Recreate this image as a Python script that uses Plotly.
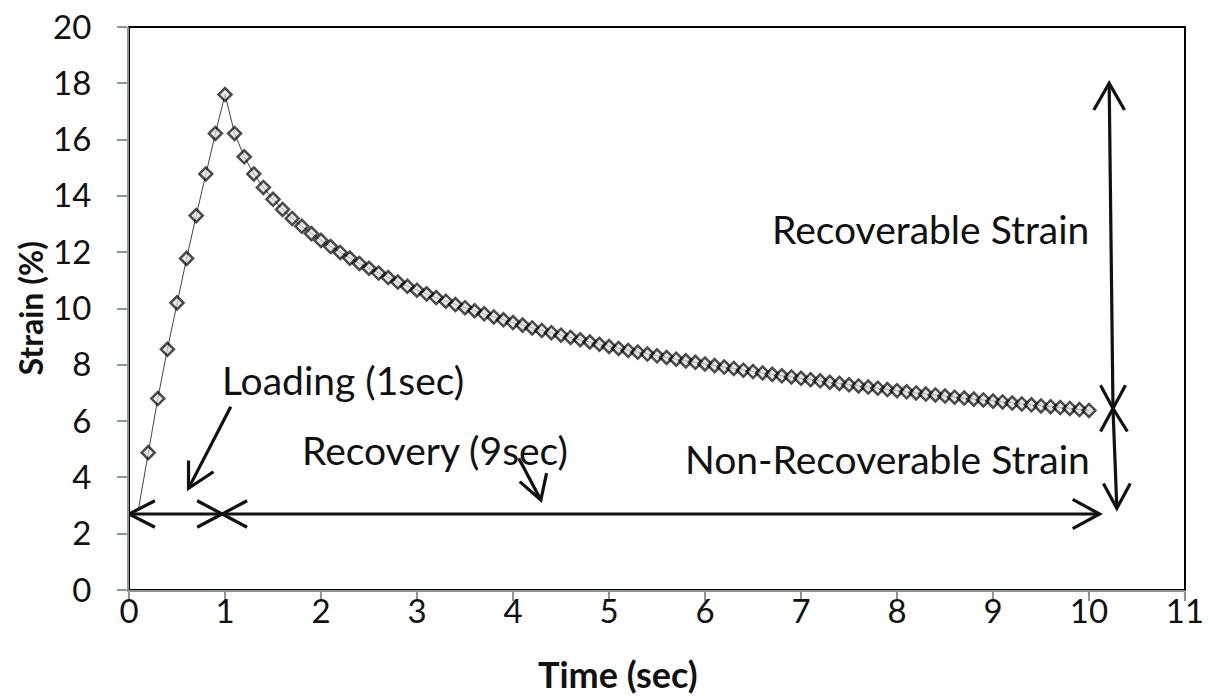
import plotly.graph_objects as go

# Strain measured every 0.1 s: 1 s loading, 9 s recovery
time_s = [round(0.1 * i, 1) for i in range(1, 101)]
loading_strain = [2.90, 4.88, 6.80, 8.55, 10.20, 11.78, 13.30, 14.78, 16.22]
recovery_strain = [
    17.60, 16.22, 15.39, 14.78, 14.30, 13.88, 13.52, 13.20, 12.92, 12.66,
    12.42, 12.20, 11.99, 11.79, 11.60, 11.43, 11.26, 11.10, 10.94, 10.79,
    10.65, 10.52, 10.39, 10.26, 10.14, 10.03, 9.92, 9.81, 9.70, 9.60,
    9.50, 9.41, 9.31, 9.22, 9.14, 9.05, 8.97, 8.89, 8.81, 8.73,
    8.65, 8.58, 8.51, 8.45, 8.38, 8.32, 8.26, 8.20, 8.14, 8.09,
    8.03, 7.97, 7.92, 7.87, 7.81, 7.76, 7.71, 7.66, 7.61, 7.57,
    7.52, 7.47, 7.43, 7.38, 7.34, 7.29, 7.25, 7.21, 7.17, 7.12,
    7.08, 7.04, 7.00, 6.96, 6.93, 6.89, 6.85, 6.82, 6.78, 6.75,
    6.71, 6.68, 6.64, 6.61, 6.58, 6.54, 6.51, 6.48, 6.45, 6.41,
    6.38,
]
strain_pct = loading_strain + recovery_strain

x_ticks = list(range(0, 12))
y_ticks = list(range(0, 22, 2))

# Annotation texts with their anchor points (time, strain)
labels = [
    ("Loading (1sec)", 2.23, 7.46),
    ("Recovery (9sec)", 3.19, 4.97),
    ("Recoverable Strain", 8.35, 12.82),
    ("Non-Recoverable Strain", 7.90, 4.65),
]

# Dimension arrows drawn as open polylines (time, strain)
arrow_paths = [
    [(0.0, 2.7), (10.11, 2.7)],
    [(0.27, 3.17), (0.0, 2.7), (0.27, 2.23)],
    [(0.71, 3.17), (0.97, 2.7), (0.71, 2.23)],
    [(1.23, 3.17), (0.97, 2.7), (1.23, 2.23)],
    [(9.83, 3.22), (10.11, 2.7), (9.83, 2.18)],
    [(10.21, 18.0), (10.25, 6.45)],
    [(10.05, 17.05), (10.21, 18.0), (10.37, 17.05)],
    [(10.12, 7.27), (10.25, 6.45), (10.38, 7.27)],
    [(10.12, 5.63), (10.25, 6.45), (10.40, 5.63)],
    [(10.25, 6.45), (10.29, 2.9)],
    [(10.15, 3.78), (10.29, 2.9), (10.43, 3.78)],
    [(1.06, 6.51), (0.62, 3.61)],
    [(0.62, 4.60), (0.62, 3.61), (0.88, 4.20)],
    [(4.06, 4.68), (4.29, 3.20)],
    [(4.07, 3.85), (4.29, 3.20), (4.35, 4.15)],
]

FONT = "Lato"
INK = "#111111"
AXIS_GREY = "#8c9696"

marker_sizes = [0] + [10] * (len(time_s) - 1)

fig = go.Figure()
fig.add_trace(go.Scatter(
    x=time_s, y=strain_pct, mode="lines+markers",
    line=dict(color="#444444", width=1),
    marker=dict(symbol="diamond", size=marker_sizes, color="#dedede",
                line=dict(color="#000000", width=2.5)),
    showlegend=False, hoverinfo="x+y",
))

shapes = [dict(type="rect", xref="paper", yref="paper", x0=0, y0=0, x1=1, y1=1,
               line=dict(color="#000000", width=2), layer="below")]
for pts in arrow_paths:
    d = "M " + " L ".join(f"{px},{py}" for px, py in pts)
    shapes.append(dict(type="path", xref="x", yref="y", path=d,
                       line=dict(color=INK, width=3.2)))

annotations = [dict(text=t, x=ax, y=ay, xref="x", yref="y", showarrow=False,
                    xanchor="center", yanchor="middle",
                    font=dict(family=FONT, size=39, color=INK))
               for t, ax, ay in labels]
annotations.append(dict(text="<b>Time (sec)</b>", x=5.09, y=0, xref="x", yref="paper",
                        xanchor="center", yanchor="middle", yshift=-84, showarrow=False,
                        font=dict(family=FONT, size=36, color=INK)))
annotations.append(dict(text="<b>Strain (%)</b>", x=0, y=0.5, xref="paper", yref="paper",
                        xanchor="center", yanchor="middle",
                        xshift=-99, textangle=-90, showarrow=False,
                        font=dict(family=FONT, size=32, color=INK)))

fig.update_layout(
    template="none",
    width=1209, height=698,
    margin=dict(l=129, r=24, t=27, b=108),
    paper_bgcolor="white", plot_bgcolor="white",
    shapes=shapes, annotations=annotations,
    xaxis=dict(range=[0, 11], tickvals=x_ticks, showgrid=False, zeroline=False,
               automargin=False,
               showline=True, linecolor=AXIS_GREY, linewidth=2,
               ticks="outside", ticklen=9, tickcolor=AXIS_GREY, tickwidth=1.5,
               ticklabelstandoff=-18,
               tickfont=dict(family=FONT, size=33, color=INK)),
    yaxis=dict(range=[0, 20], tickvals=y_ticks, showgrid=False, zeroline=False,
               automargin=False,
               showline=True, linecolor=AXIS_GREY, linewidth=2,
               ticks="outside", ticklen=10, tickcolor=AXIS_GREY, tickwidth=1.5,
               ticklabelstandoff=19,
               tickfont=dict(family=FONT, size=33, color=INK)),
)

fig.write_html("out.html")
